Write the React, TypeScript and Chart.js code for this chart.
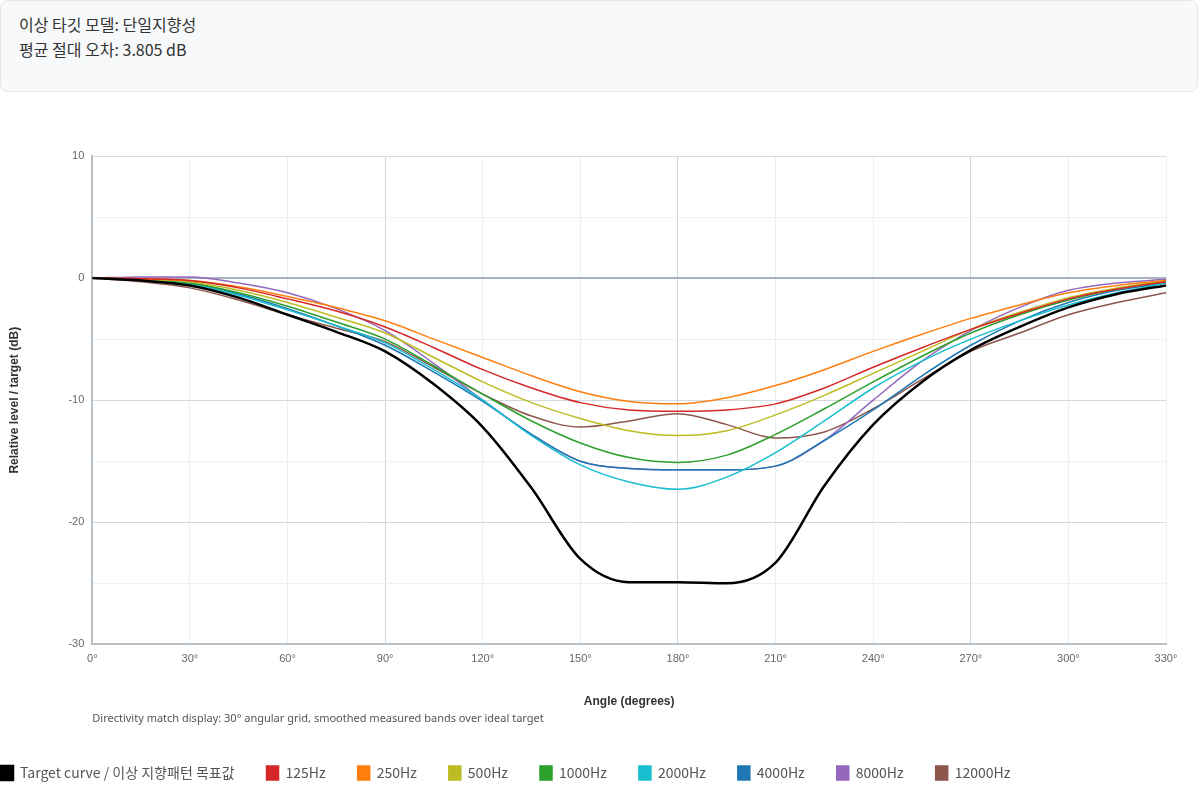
import React, { useEffect, useRef } from "react";
import { Chart, registerables } from "chart.js";
Chart.register(...registerables);

const angles = [0,15,30,45,60,75,90,105,120,135,150,165,180,195,210,225,240,255,270,285,300,315,330];
const target = [0,-0.2,-0.6,-1.6,-3,-4.4,-6,-8.7,-12.2,-17.2,-23,-24.9,-24.9,-25,-23.3,-17,-12,-8.5,-5.9,-4,-2.4,-1.3,-0.6];
const hz125 = [0,-0.05,-0.2,-0.8,-1.7,-2.7,-4,-5.7,-7.5,-9,-10.2,-10.8,-10.9,-10.8,-10.3,-9,-7.3,-5.7,-4.2,-2.9,-1.7,-0.9,-0.3];
const hz250 = [0,-0.05,-0.2,-0.7,-1.5,-2.4,-3.5,-5,-6.5,-8,-9.3,-10.1,-10.3,-9.8,-8.8,-7.5,-6,-4.6,-3.3,-2.2,-1.2,-0.6,-0.2];
const hz500 = [0,-0.1,-0.3,-1,-2,-3.2,-4.5,-6.5,-8.5,-10.2,-11.5,-12.5,-12.9,-12.5,-11.2,-9.6,-7.8,-6,-4.2,-2.8,-1.6,-0.8,-0.2];
const hz1000 = [0,-0.1,-0.4,-1.2,-2.3,-3.6,-5,-7.2,-9.5,-11.7,-13.5,-14.7,-15.1,-14.5,-12.8,-10.7,-8.5,-6.4,-4.5,-3,-1.8,-0.9,-0.3];
const hz2000 = [0,-0.1,-0.5,-1.4,-2.6,-3.9,-5.3,-7.5,-10,-12.9,-15.3,-16.7,-17.3,-16.3,-14.3,-11.7,-9,-6.8,-5,-3.5,-2.2,-1.2,-0.4];
const hz4000 = [0,-0.1,-0.4,-1.3,-2.5,-3.9,-5.5,-7.7,-10.1,-12.8,-15,-15.6,-15.7,-15.7,-15.4,-13.3,-10.8,-8,-5.5,-3.5,-2,-1,-0.4];
const hz8000 = [0,0.1,0.1,-0.4,-1.2,-2.5,-4.3,-7,-10,-12.8,-15,-15.6,-15.7,-15.7,-15.4,-13.3,-10,-6.8,-4.3,-2.4,-1,-0.4,-0.1];
const hz12000 = [0,-0.3,-0.8,-1.8,-3,-4.1,-5.2,-7.3,-9.5,-11.3,-12.2,-11.7,-11.1,-12.0,-13.1,-12.6,-10.7,-8.3,-6,-4.5,-3,-2,-1.2];

const bandNames = ["125Hz","250Hz","500Hz","1000Hz","2000Hz","4000Hz","8000Hz","12000Hz"];
const bandValues = [hz125,hz250,hz500,hz1000,hz2000,hz4000,hz8000,hz12000];
const bandColors = ["#d62728","#ff7f0e","#bcbd22","#2ca02c","#17becf","#1f77b4","#9467bd","#8c564b"];

const footnote = "Directivity match display: 30° angular grid, smoothed measured bands over ideal target";

export default function App() {
  const ref = useRef<HTMLCanvasElement>(null);
  useEffect(() => {
    document.body.style.margin = "0";
    const pts = (arr: number[]) => arr.map((y, i) => ({ x: angles[i], y }));
    const datasets: any[] = [
      { label: "Target curve / 이상 지향패턴 목표값", data: pts(target), borderColor: "#000", backgroundColor: "#000", borderWidth: 2.5 },
      ...bandNames.map((n, i) => ({ label: n, data: pts(bandValues[i]), borderColor: bandColors[i], backgroundColor: bandColors[i], borderWidth: 1.5 })),
    ];
    const footPlugin = {
      id: "foot",
      afterDraw(c: any) {
        const ctx = c.ctx;
        ctx.save();
        ctx.font = "11px 'Segoe UI', 'Noto Sans', sans-serif";
        ctx.fillStyle = "#555";
        ctx.textBaseline = "middle";
        ctx.fillText(footnote, c.chartArea.left, c.chartArea.bottom + 74);
        ctx.restore();
      },
    };
    const chart = new Chart(ref.current!, {
      type: "line",
      data: { datasets },
      options: {
        animation: false,
        responsive: true,
        maintainAspectRatio: false,
        layout: { padding: { top: 46, right: 34, left: 33, bottom: 10 } },
        elements: { point: { radius: 0 }, line: { tension: 0.4, cubicInterpolationMode: "monotone" } },
        plugins: {
          legend: {
            position: "bottom",
            align: "start",
            labels: { boxWidth: 12, boxHeight: 14, padding: 32, color: "#555", font: { size: 14, family: "'Noto Sans CJK KR', 'Noto Sans', sans-serif" } },
          },
          tooltip: { enabled: false },
        },
        scales: {
          x: {
            type: "linear",
            min: 0,
            max: 330,
            ticks: { stepSize: 30, color: "#666", font: { size: 11 }, padding: 8, callback: (v: any) => v + "°" },
            grid: { color: (c: any) => (c.tick && c.tick.value % 90 === 0 && c.tick.value > 0 ? "#cfd6dd" : "#eceff2"), drawTicks: false },
            border: { color: "#b8c0c8", width: 2 },
            title: { display: true, text: "Angle (degrees)", color: "#333", font: { size: 12, weight: "bold" }, padding: { top: 21, bottom: 25 } },
          },
          y: {
            min: -30,
            max: 10,
            ticks: { stepSize: 5, color: "#666", font: { size: 11 }, padding: 8, callback: (v: any) => (v % 10 === 0 ? String(v) : "") },
            grid: { color: (c: any) => (c.tick && c.tick.value === 0 ? "#a9b3bd" : c.tick && c.tick.value % 10 === 0 ? "#d4dae0" : "#eef1f4"), lineWidth: (c: any) => (c.tick && c.tick.value === 0 ? 2 : 1), drawTicks: false },
            border: { color: "#b8c0c8", width: 2 },
            title: { display: true, text: "Relative level / target (dB)", color: "#333", font: { size: 12, weight: "bold" }, padding: { top: 38, bottom: 39 } },
          },
        },
      } as any,
      plugins: [footPlugin],
    });
    return () => chart.destroy();
  }, []);
  return (
    <div style={{ width: 1200, height: 800, fontFamily: "'Noto Sans CJK KR', 'Noto Sans', sans-serif", position: "relative", overflow: "hidden" }}>
      <div style={{ position: "absolute", left: 0, top: 0, width: 1198, height: 92, background: "#f8f9fa", border: "1px solid #e3e6ea", borderRadius: 8, boxSizing: "border-box", padding: "11px 18px", fontSize: 16, color: "#333", lineHeight: "25px" }}>
        <div>이상 타깃 모델: 단일지향성</div>
        <div>평균 절대 오차: 3.805 dB</div>
      </div>
      <div style={{ position: "absolute", left: -64, top: 110, width: 1264, height: 690 }}>
        <canvas ref={ref} />
      </div>
    </div>
  );
}
